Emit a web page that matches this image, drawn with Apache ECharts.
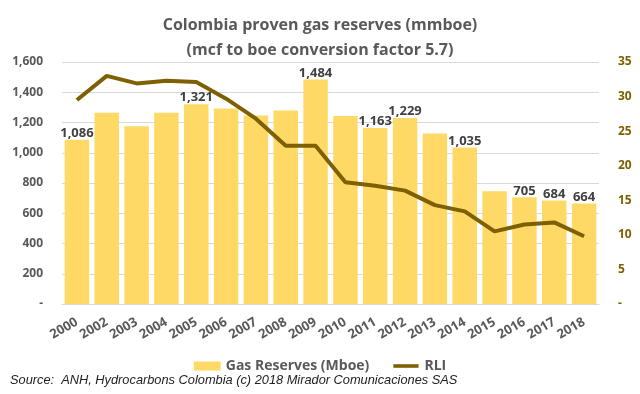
<!DOCTYPE html>
<html><head><meta charset="utf-8">
<script src="https://cdn.jsdelivr.net/npm/echarts@6/dist/echarts.min.js"></script>
<style>html,body{margin:0;padding:0;background:#fff}#c{width:640px;height:394px}</style>
</head><body><div id="c"></div>
<script>
const years = ['2000','2002','2003','2004','2005','2006','2007','2008','2009','2010','2011','2012','2013','2014','2015','2016','2017','2018'];
const gasReserves = [1086,1265,1175,1265,1321,1292,1247,1280,1484,1243,1163,1229,1128,1035,745,705,684,664];
const rli = [29.5,33.0,31.9,32.3,32.1,29.7,26.8,22.9,22.9,17.6,17.1,16.4,14.3,13.4,10.5,11.5,11.8,9.8];
const labeledYears = ['2000','2005','2009','2011','2012','2014','2016','2017','2018'];
const leftTicks = [0,200,400,600,800,1000,1200,1400,1600];
const rightTicks = [0,5,10,15,20,25,30,35];

const font = "'Open Sans', 'Liberation Sans', sans-serif";
const fmt = v => v === 0 ? '-' : v.toLocaleString('en-US');

const chart = echarts.init(document.getElementById('c'), null, {renderer:'canvas'});
chart.setOption({
  animation:false,
  title:{
    text:'Colombia proven gas reserves (mmboe)\n(mcf to boe conversion factor 5.7)',
    left:'center', top:8,
    textStyle:{fontFamily:font, fontSize:16, fontWeight:'bold', color:'#595959', lineHeight:25}
  },
  graphic:[{
    type:'text', left:10, top:374,
    style:{text:'Source:  ANH, Hydrocarbons Colombia (c) 2018 Mirador Comunicaciones SAS',
      font:"italic 12.8px 'Liberation Sans', sans-serif", fill:'#222'}
  }],
  legend:{
    top:354, left:'center', itemGap:24, itemWidth:27, itemHeight:9,
    textStyle:{fontFamily:font, fontSize:14, fontWeight:'bold', color:'#595959'},
    data:[{name:'Gas Reserves (Mboe)', icon:'rect'},
          {name:'RLI', icon:'path://M0,0 M0,3 L28,3 L28,7 L0,7 Z M28,10'}]
  },
  grid:{left:62, right:41, top:62, bottom:90},
  xAxis:{
    type:'category', data:years,
    axisLine:{show:true, lineStyle:{color:'#d9d9d9'}},
    axisTick:{show:false},
    axisLabel:{rotate:30, interval:0, fontFamily:font, fontSize:13, fontWeight:'bold', color:'#595959', margin:17}
  },
  yAxis:[{
    type:'value', min:0, max:1600, interval:200,
    axisLabel:{formatter:fmt, fontFamily:font, fontSize:12, fontWeight:'bold', color:'#595959', margin:19},
    splitLine:{lineStyle:{color:'#d9d9d9'}},
    axisLine:{show:false}, axisTick:{show:false}
  },{
    type:'value', min:0, max:35, interval:5,
    axisLabel:{formatter:v=>v===0?'-':String(v), fontFamily:font, fontSize:12, fontWeight:'bold', color:'#7F6000', margin:19},
    splitLine:{show:false}, axisLine:{show:false}, axisTick:{show:false}
  }],
  series:[{
    name:'Gas Reserves (Mboe)', type:'bar', yAxisIndex:0, barCategoryGap:'18%',
    itemStyle:{color:'#FFD966'},
    data: gasReserves.map((v,i)=>({value:v, label:{show: labeledYears.includes(years[i])}})),
    label:{position:'top', distance:0, formatter:p=>fmt(p.value), fontFamily:font, fontSize:13, fontWeight:'bold', color:'#404040'}
  },{
    name:'RLI', type:'line', yAxisIndex:1, data:rli, symbol:'none',
    lineStyle:{color:'#7F6000', width:4}, itemStyle:{color:'#7F6000'}, z:5
  }]
});
</script></body></html>
